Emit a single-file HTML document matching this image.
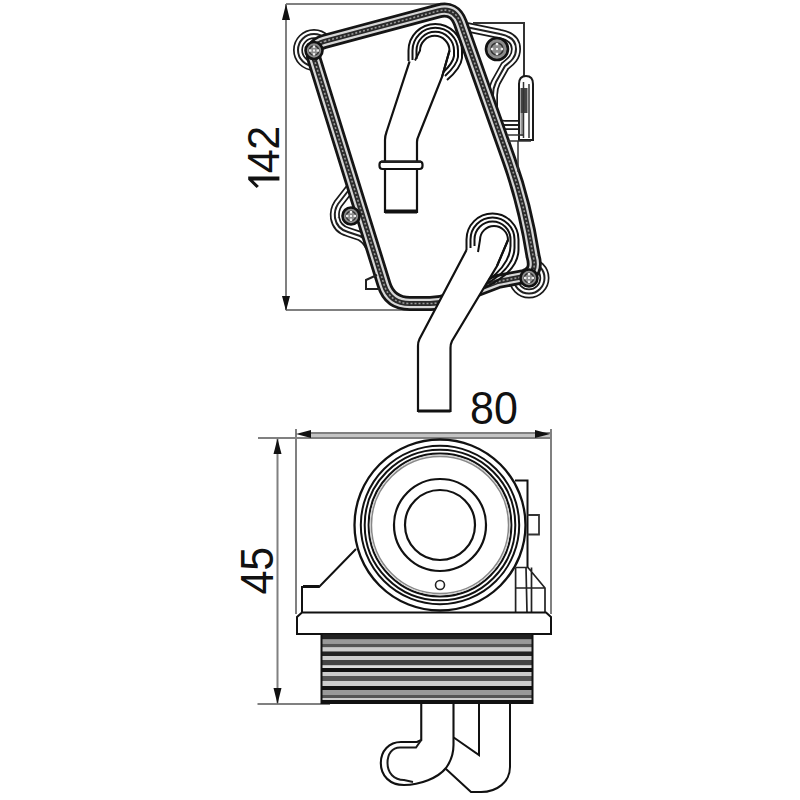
<!DOCTYPE html>
<html><head><meta charset="utf-8"><style>
html,body{margin:0;padding:0;background:#fff;width:800px;height:800px;overflow:hidden}
svg{display:block}
text{font-family:"Liberation Sans",sans-serif}
</style></head><body>
<svg width="800" height="800" viewBox="0 0 800 800">
<defs>
<path id="band" d="M324.4,41.4 L438.2,11.0 Q454.6,6.7 460.3,22.7 L509,160 Q525,205 533,256 Q538,273 524,276.5 L498,281.5 L449.5,300 Q440,303.5 430,303.5 L409.9,303.5 Q389.9,303.5 384,284.4 L314.3,59.6 Q309.9,45.3 324.4,41.4 Z"/>
</defs>
<rect width="800" height="800" fill="#fff"/>

<rect x="310" y="433" width="241" height="5" fill="#c4c4c4"/>
<g stroke="#808080" stroke-width="2" fill="none">
<line x1="286" y1="4" x2="445" y2="4"/>
<line x1="286" y1="4" x2="286" y2="310"/>
<line x1="286" y1="310" x2="432" y2="310"/>
<line x1="310" y1="433" x2="551" y2="433"/>
<line x1="258" y1="438" x2="551" y2="438"/>
<line x1="296" y1="429" x2="296" y2="614"/>
<line x1="551" y1="429" x2="551" y2="614"/>
<line x1="277.5" y1="438.5" x2="277.5" y2="704"/>
<line x1="257.5" y1="704" x2="330" y2="704"/>
</g>
<g fill="#111">
<path d="M286 4 L290 20 L282 20 Z"/>
<path d="M286 311 L290 296 L282 296 Z"/>
<path d="M296 434 L311 430 L311 438 Z"/>
<path d="M550 434 L535 430 L535 438 Z"/>
<path d="M277.5 438.5 L281.5 454 L273.5 454 Z"/>
<path d="M277.5 704 L281.5 688 L273.5 688 Z"/>
</g>
<g transform="translate(279.4,188.3) rotate(-90)" fill="#111">
<path d="M7.8 0 H11.8 V-31.2 H8.6 L0.3 -22.8 L2.3 -20.5 L7.8 -26.2 Z"/>
<text x="15" y="0" font-size="43" transform="scale(1,1.05)">4</text>
<text x="38.5" y="0" font-size="43" transform="scale(1,1.05)">2</text>
</g>
<g transform="translate(0,423.5)" fill="#111">
<text x="470" y="0" font-size="43" transform="scale(1,1.09)">80</text>
</g>
<g transform="translate(272.5,593.6) rotate(-90)" fill="#111">
<text x="-1" y="0" font-size="43" transform="scale(1,1.06)">45</text>
</g>

<g id="ears" fill="none">
<circle cx="314" cy="50" r="16"/>
<path d="M355,182 L338,204 Q334,210 335,218 Q337,229 348,232 L360,236 Q366,239 370,247"/>
<circle cx="529" cy="278" r="15.5"/>
<path d="M466,27 L500,34 C511,36 516,41 516,49 C516,58 510,62 505,66 L496,82 C494,86 493,90 493,95 L493,116 C493,122 498,125 505,125 L522,125"/>
</g>
<use href="#ears" stroke="#1a1a1a" stroke-width="10" fill="none"/>
<use href="#ears" stroke="#fff" stroke-width="6.6" fill="none"/>
<use href="#ears" stroke="#222" stroke-width="2" fill="none"/>
<use href="#band" stroke="#fff" stroke-width="10" fill="#fff"/>
<use href="#band" stroke="#151515" stroke-width="15" fill="none"/>
<use href="#band" stroke="#d8d8d8" stroke-width="9.4" fill="none"/>
<use href="#band" stroke="#2a2a2a" stroke-width="5" fill="none"/>
<use href="#band" stroke="#999" stroke-width="1.6" stroke-dasharray="2 2" fill="none"/>

<g stroke="#111" fill="#8c8c8c" stroke-width="2.6"><circle cx="314" cy="50.5" r="8.5"/><circle cx="351" cy="216" r="8.5"/><circle cx="497" cy="49" r="11"/><circle cx="529" cy="278" r="8.5"/></g>
<g stroke="#333" fill="none" stroke-width="1.6"><circle cx="314" cy="50.5" r="4.675000000000001"/><circle cx="351" cy="216" r="4.675000000000001"/><circle cx="497" cy="49" r="6.050000000000001"/><circle cx="529" cy="278" r="4.675000000000001"/></g>
<g fill="#eee"><rect x="312.8" y="45.474999999999994" width="2.4" height="2.4"/><rect x="312.8" y="53.125" width="2.4" height="2.4"/><rect x="308.975" y="49.3" width="2.4" height="2.4"/><rect x="316.625" y="49.3" width="2.4" height="2.4"/><rect x="313" y="49.5" width="2" height="2"/><rect x="349.8" y="210.97500000000002" width="2.4" height="2.4"/><rect x="349.8" y="218.625" width="2.4" height="2.4"/><rect x="345.975" y="214.8" width="2.4" height="2.4"/><rect x="353.625" y="214.8" width="2.4" height="2.4"/><rect x="350" y="215" width="2" height="2"/><rect x="495.8" y="42.849999999999994" width="2.4" height="2.4"/><rect x="495.8" y="52.75" width="2.4" height="2.4"/><rect x="490.85" y="47.8" width="2.4" height="2.4"/><rect x="500.75" y="47.8" width="2.4" height="2.4"/><rect x="496" y="48" width="2" height="2"/><rect x="527.8" y="272.975" width="2.4" height="2.4"/><rect x="527.8" y="280.625" width="2.4" height="2.4"/><rect x="523.9749999999999" y="276.8" width="2.4" height="2.4"/><rect x="531.625" y="276.8" width="2.4" height="2.4"/><rect x="528" y="277" width="2" height="2"/></g>
<path d="M473,23 H524 V77" stroke="#333" stroke-width="2" fill="none"/>
<path d="M519,140 V84 Q519,76 526,76 Q533,76 533,84 V140 Z" stroke="#1a1a1a" stroke-width="2" fill="#fff"/>
<rect x="520.5" y="88" width="7" height="25" fill="#444"/>
<rect x="520.5" y="113" width="3.5" height="23" fill="#999"/>
<g stroke="#333" stroke-width="1.5" fill="none">
<line x1="523.5" y1="82" x2="523.5" y2="138"/>
<line x1="529" y1="84" x2="529" y2="138"/>
<path d="M507,135 H524"/>
<path d="M507,141 H531"/>
<line x1="518" y1="141" x2="518" y2="172"/>
</g>
<path d="M377,275 L366,280 V289 H380" stroke="#222" stroke-width="2" fill="none"/>

<path d="M409.6,61.4 L386.5,132 Q385,136 385,140 V212 H417 V142 Q417,139 418.5,136 L442,77 L449.5,50.6" stroke="#111" stroke-width="2.2" fill="#fff"/>
<g stroke="#111" fill="none" stroke-width="2">
<path d="M408.5,61 V50.6 A26.75,26.75 0 0 1 462,50.6 V58 Q461,68 447,80"/>
<path d="M412.5,60 V50.6 A22.75,22.75 0 0 1 458,50.6 V57 Q457,65 445,76"/>
<path d="M416.5,59 V50.6 A18.75,18.75 0 0 1 454,50.6 V56 Q453,63 443.5,72"/>
<path d="M415,60.5 L420,50.6 A14.75,14.75 0 0 1 449.5,50.6 L442,77"/>
</g>
<line x1="385" y1="211.5" x2="417" y2="211.5" stroke="#111" stroke-width="4"/>
<rect x="379.5" y="161.5" width="43" height="7.5" rx="3" stroke="#111" stroke-width="2.2" fill="#fff"/>
<line x1="381" y1="161.8" x2="421" y2="161.8" stroke="#222" stroke-width="2.5"/>

<path d="M466.5,250 L419.5,339 Q418,342 418,346 V411 H450.5 V348 Q450.5,344 452,341 L497,266 L508,240" stroke="#111" stroke-width="2.2" fill="#fff"/>
<g stroke="#111" fill="none" stroke-width="2">
<path d="M466.5,250 V239.5 A26,26 0 0 1 518.5,239.5 V250 Q518,272 484,288"/>
<path d="M470.5,248 V239.5 A22,22 0 0 1 514.5,239.5 V248 Q514,268 486.2,284"/>
<path d="M474.5,246 V239.5 A18,18 0 0 1 510.5,239.5 V246 Q510,264 488.6,280"/>
<path d="M478,252 L480,240 A14,14 0 0 1 508,240 L497,266"/>
</g>
<line x1="418" y1="411" x2="450.5" y2="411" stroke="#111" stroke-width="3"/>

<path d="M302,612.5 V587 H319 L356,549" stroke="#111" stroke-width="2" fill="none"/>
<line x1="303" y1="586.5" x2="319" y2="586.5" stroke="#111" stroke-width="3"/>
<circle cx="440" cy="525" r="86" fill="#fff" stroke="none"/>
<circle cx="440" cy="525" r="85.5" stroke="#111" stroke-width="2.3" fill="none"/>
<circle cx="440" cy="525" r="79.2" stroke="#111" stroke-width="2" fill="none"/>
<circle cx="440" cy="525" r="75.3" stroke="#111" stroke-width="2" fill="none"/>
<circle cx="440" cy="525" r="71.4" stroke="#111" stroke-width="2" fill="none"/>
<circle cx="440" cy="525" r="68.6" stroke="#888" stroke-width="1.6" fill="none"/>
<circle cx="440" cy="525" r="69.8" stroke="#ccc" stroke-width="1" fill="none"/>
<circle cx="440" cy="525" r="46" stroke="#111" stroke-width="2.2" fill="none"/>
<circle cx="440" cy="525" r="35" stroke="#111" stroke-width="2.2" fill="none"/>
<circle cx="440" cy="585" r="4.5" stroke="#222" stroke-width="1.6" fill="none"/>
<path d="M515,480.5 H527.5 V567.5" stroke="#111" stroke-width="2" fill="none"/>
<path d="M527.5,515 H539 V534.5 H527.5" stroke="#333" stroke-width="1.8" fill="none"/>
<path d="M515.6,567.5 H528 L545,588 V612.6 M515.6,567.5 V612.6 M515.6,588 H545 M526,567.5 L527,612.6 M531.5,567.5 L531.5,612.6" stroke="#222" stroke-width="1.7" fill="none"/>
<path d="M302,612.5 H546 L551,617 V634 H297 V617 Z" stroke="#111" stroke-width="2" fill="#fff"/>
<rect x="321.5" y="634.5" width="211" height="5.10" fill="#222"/>
<rect x="321.5" y="639.6" width="211" height="4.00" fill="#999"/>
<rect x="321.5" y="643.6" width="211" height="3.90" fill="#555"/>
<rect x="321.5" y="647.5" width="211" height="3.90" fill="#ccc"/>
<rect x="321.5" y="651.4" width="211" height="4.60" fill="#222"/>
<rect x="321.5" y="656" width="211" height="4.00" fill="#ccc"/>
<rect x="321.5" y="660" width="211" height="5.50" fill="#444"/>
<rect x="321.5" y="665.5" width="211" height="2.50" fill="#ddd"/>
<rect x="321.5" y="668" width="211" height="4.00" fill="#111"/>
<rect x="321.5" y="672" width="211" height="4.00" fill="#ccc"/>
<rect x="321.5" y="676" width="211" height="5.00" fill="#555"/>
<rect x="321.5" y="681" width="211" height="5.00" fill="#ccc"/>
<rect x="321.5" y="686" width="211" height="4.00" fill="#111"/>
<rect x="321.5" y="690" width="211" height="5.00" fill="#999"/>
<rect x="321.5" y="695" width="211" height="3.00" fill="#555"/>
<rect x="321.5" y="698" width="211" height="2.00" fill="#ccc"/>
<rect x="321.5" y="700" width="211" height="4.00" fill="#111"/>
<path d="M321.5,634 V704 M532.5,634 V704" stroke="#111" stroke-width="2"/>
<path d="M421.25,704 V740 L417,742 H401 C389,742 380.8,751 380.8,763 C380.8,776 390,785 404,785 C420,785 438,778 446,768 C451,761 453.5,755 453.5,745 V704" stroke="#111" stroke-width="2.1" fill="#fff"/>
<path d="M421.25,740 L416,747.5 H400 C392,747.5 387.5,754 387.5,763 C387.5,773 394,780 404,780 L413,782" stroke="#1a1a1a" stroke-width="2" fill="none"/>
<path d="M510,704 V767 C510,782 497,792 481,792 H471 L446,769" stroke="#111" stroke-width="2" fill="none"/>
<path d="M453.75,737.5 L479,755 V704" stroke="#111" stroke-width="2" fill="none"/>
</svg></body></html>
